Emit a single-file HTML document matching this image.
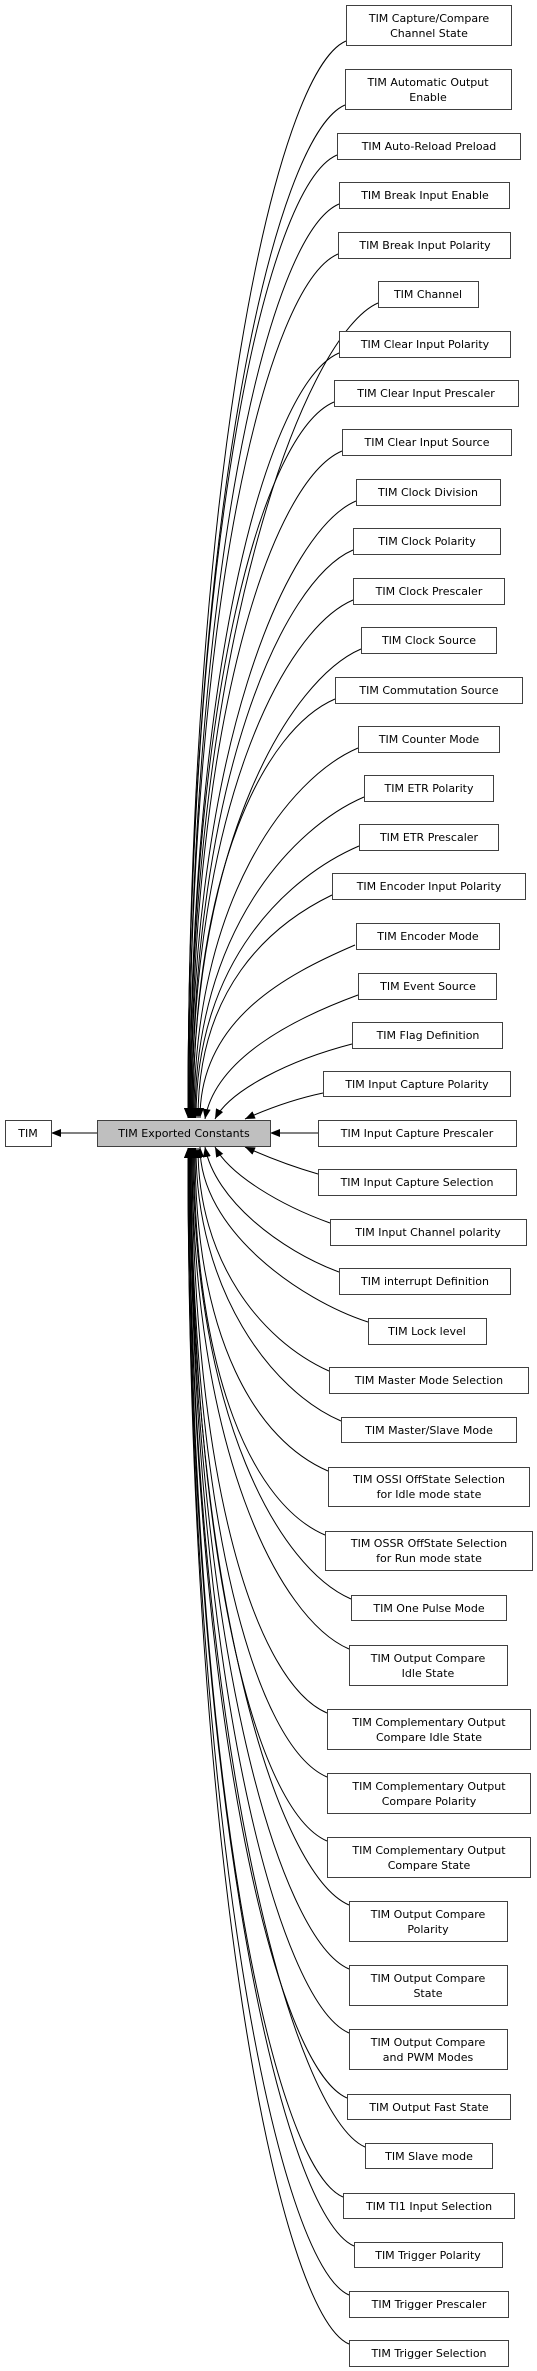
<!DOCTYPE html>
<html><head><meta charset="utf-8"><style>
html,body{margin:0;padding:0;background:#fff;}
svg{display:block;}
text{font-family:"DejaVu Sans","Liberation Sans",sans-serif;font-size:11px;fill:#000;text-anchor:middle;}
rect{fill:#fff;stroke:#404040;stroke-width:1;}
path.e{fill:none;stroke:#000;stroke-width:1;}
</style></head><body>
<svg width="537" height="2371" viewBox="0 0 537 2371" xmlns="http://www.w3.org/2000/svg">
<defs><marker id="a" markerUnits="userSpaceOnUse" markerWidth="11" markerHeight="9" refX="10" refY="4" orient="auto"><path d="M0,0 L10,4 L0,8 z" fill="#000"/></marker></defs>
<g marker-end="url(#a)">
<path class="e" d="M346,41 C276,71 188,472 188,1118"/>
<path class="e" d="M345,105 C275,135 188,510 188,1118"/>
<path class="e" d="M337,155 C267,185 188,540 188,1118"/>
<path class="e" d="M339,204 C269,234 189,570 189,1118"/>
<path class="e" d="M338,254 C268,284 189,600 189,1118"/>
<path class="e" d="M378,303 C308,333 190,630 190,1118"/>
<path class="e" d="M339,353 C269,383 190,660 190,1118"/>
<path class="e" d="M334,402 C264,432 190,690 190,1118"/>
<path class="e" d="M342,451 C272,481 191,720 191,1118"/>
<path class="e" d="M356,501 C286,531 191,750 191,1118"/>
<path class="e" d="M353,550 C283,580 192,780 192,1118"/>
<path class="e" d="M353,600 C283,630 192,810 192,1118"/>
<path class="e" d="M361,649 C291,679 193,840 193,1118"/>
<path class="e" d="M335,699 C265,729 193,870 193,1118"/>
<path class="e" d="M358,748 C288,778 194,900 194,1118"/>
<path class="e" d="M364,797 C294,827 195,930 195,1118"/>
<path class="e" d="M359,846 C289,876 196,960 196,1118"/>
<path class="e" d="M332,895 C268,926 198,990 198,1118"/>
<path class="e" d="M355,945 C285,975 200,1020 200,1118"/>
<path class="e" d="M358,995 C290,1020 215,1060 205,1119"/>
<path class="e" d="M352,1044 C290,1060 230,1090 215,1119"/>
<path class="e" d="M323,1093 C290,1100 265,1110 245,1119"/>
<path class="e" d="M318,1133 L270,1133"/>
<path class="e" d="M318,1174 C290,1166 265,1156 245,1147"/>
<path class="e" d="M330,1223 C280,1205 230,1175 215,1147"/>
<path class="e" d="M339,1272 C280,1250 215,1200 205,1147"/>
<path class="e" d="M368,1322 C300,1300 200,1230 200,1147"/>
<path class="e" d="M329,1371 C260,1340 198,1260 198,1148"/>
<path class="e" d="M341,1421 C271,1391 196,1290 196,1148"/>
<path class="e" d="M328,1471 C258,1441 195,1342 195,1148"/>
<path class="e" d="M325,1535 C255,1505 194,1380 194,1148"/>
<path class="e" d="M351,1599 C281,1569 193,1419 193,1148"/>
<path class="e" d="M349,1649 C279,1619 192,1449 192,1148"/>
<path class="e" d="M327,1713 C257,1683 192,1487 192,1148"/>
<path class="e" d="M327,1777 C257,1747 191,1525 191,1148"/>
<path class="e" d="M327,1841 C257,1811 191,1564 191,1148"/>
<path class="e" d="M349,1905 C279,1875 190,1602 190,1148"/>
<path class="e" d="M349,1969 C279,1939 190,1641 190,1148"/>
<path class="e" d="M349,2033 C279,2003 190,1679 190,1148"/>
<path class="e" d="M347,2098 C277,2068 189,1718 189,1148"/>
<path class="e" d="M365,2147 C295,2117 189,1747 189,1148"/>
<path class="e" d="M343,2197 C273,2167 189,1777 189,1148"/>
<path class="e" d="M354,2246 C284,2216 188,1807 188,1148"/>
<path class="e" d="M349,2295 C279,2265 188,1836 188,1148"/>
<path class="e" d="M349,2344 C279,2314 188,1866 188,1148"/>
<path class="e" d="M97,1133 L51,1133"/>
</g>
<rect x="5.5" y="1120.5" width="46" height="26"/><text x="28" y="1137">TIM</text>
<rect x="97.5" y="1120.5" width="173" height="26" style="fill:#bfbfbf"/><text x="184" y="1137">TIM Exported Constants</text>

<rect x="346.5" y="5.5" width="165" height="40"/><text x="429" y="22">TIM Capture/Compare</text><text x="429" y="37">Channel State</text>
<rect x="345.5" y="69.5" width="166" height="40"/><text x="428" y="86">TIM Automatic Output</text><text x="428" y="101">Enable</text>
<rect x="337.5" y="133.5" width="183" height="26"/><text x="429" y="150">TIM Auto-Reload Preload</text>
<rect x="339.5" y="182.5" width="170" height="26"/><text x="425" y="199">TIM Break Input Enable</text>
<rect x="338.5" y="232.5" width="172" height="26"/><text x="425" y="249">TIM Break Input Polarity</text>
<rect x="378.5" y="281.5" width="100" height="26"/><text x="428" y="298">TIM Channel</text>
<rect x="339.5" y="331.5" width="171" height="26"/><text x="425" y="348">TIM Clear Input Polarity</text>
<rect x="334.5" y="380.5" width="184" height="26"/><text x="426" y="397">TIM Clear Input Prescaler</text>
<rect x="342.5" y="429.5" width="169" height="26"/><text x="427" y="446">TIM Clear Input Source</text>
<rect x="356.5" y="479.5" width="144" height="26"/><text x="428" y="496">TIM Clock Division</text>
<rect x="353.5" y="528.5" width="147" height="26"/><text x="427" y="545">TIM Clock Polarity</text>
<rect x="353.5" y="578.5" width="151" height="26"/><text x="429" y="595">TIM Clock Prescaler</text>
<rect x="361.5" y="627.5" width="135" height="26"/><text x="429" y="644">TIM Clock Source</text>
<rect x="335.5" y="677.5" width="187" height="26"/><text x="429" y="694">TIM Commutation Source</text>
<rect x="358.5" y="726.5" width="141" height="26"/><text x="429" y="743">TIM Counter Mode</text>
<rect x="364.5" y="775.5" width="129" height="26"/><text x="429" y="792">TIM ETR Polarity</text>
<rect x="359.5" y="824.5" width="139" height="26"/><text x="429" y="841">TIM ETR Prescaler</text>
<rect x="332.5" y="873.5" width="193" height="26"/><text x="429" y="890">TIM Encoder Input Polarity</text>
<rect x="356.5" y="923.5" width="143" height="26"/><text x="428" y="940">TIM Encoder Mode</text>
<rect x="358.5" y="973.5" width="138" height="26"/><text x="428" y="990">TIM Event Source</text>
<rect x="352.5" y="1022.5" width="150" height="26"/><text x="428" y="1039">TIM Flag Definition</text>
<rect x="323.5" y="1071.5" width="187" height="25"/><text x="417" y="1088">TIM Input Capture Polarity</text>
<rect x="318.5" y="1120.5" width="198" height="26"/><text x="417" y="1137">TIM Input Capture Prescaler</text>
<rect x="318.5" y="1169.5" width="198" height="26"/><text x="417" y="1186">TIM Input Capture Selection</text>
<rect x="330.5" y="1219.5" width="196" height="26"/><text x="428" y="1236">TIM Input Channel polarity</text>
<rect x="339.5" y="1268.5" width="171" height="26"/><text x="425" y="1285">TIM interrupt Definition</text>
<rect x="368.5" y="1318.5" width="118" height="26"/><text x="427" y="1335">TIM Lock level</text>
<rect x="329.5" y="1367.5" width="199" height="26"/><text x="429" y="1384">TIM Master Mode Selection</text>
<rect x="341.5" y="1417.5" width="175" height="25"/><text x="429" y="1434">TIM Master/Slave Mode</text>
<rect x="328.5" y="1467.5" width="201" height="39"/><text x="429" y="1483">TIM OSSI OffState Selection</text><text x="429" y="1498">for Idle mode state</text>
<rect x="325.5" y="1531.5" width="207" height="39"/><text x="429" y="1547">TIM OSSR OffState Selection</text><text x="429" y="1562">for Run mode state</text>
<rect x="351.5" y="1595.5" width="155" height="25"/><text x="429" y="1612">TIM One Pulse Mode</text>
<rect x="349.5" y="1645.5" width="158" height="40"/><text x="428" y="1662">TIM Output Compare</text><text x="428" y="1677">Idle State</text>
<rect x="327.5" y="1709.5" width="203" height="40"/><text x="429" y="1726">TIM Complementary Output</text><text x="429" y="1741">Compare Idle State</text>
<rect x="327.5" y="1773.5" width="203" height="40"/><text x="429" y="1790">TIM Complementary Output</text><text x="429" y="1805">Compare Polarity</text>
<rect x="327.5" y="1837.5" width="203" height="40"/><text x="429" y="1854">TIM Complementary Output</text><text x="429" y="1869">Compare State</text>
<rect x="349.5" y="1901.5" width="158" height="40"/><text x="428" y="1918">TIM Output Compare</text><text x="428" y="1933">Polarity</text>
<rect x="349.5" y="1965.5" width="158" height="40"/><text x="428" y="1982">TIM Output Compare</text><text x="428" y="1997">State</text>
<rect x="349.5" y="2029.5" width="158" height="40"/><text x="428" y="2046">TIM Output Compare</text><text x="428" y="2061">and PWM Modes</text>
<rect x="347.5" y="2094.5" width="163" height="25"/><text x="429" y="2111">TIM Output Fast State</text>
<rect x="365.5" y="2143.5" width="127" height="25"/><text x="429" y="2160">TIM Slave mode</text>
<rect x="343.5" y="2193.5" width="171" height="25"/><text x="429" y="2210">TIM TI1 Input Selection</text>
<rect x="354.5" y="2242.5" width="148" height="25"/><text x="428" y="2259">TIM Trigger Polarity</text>
<rect x="349.5" y="2291.5" width="159" height="26"/><text x="429" y="2308">TIM Trigger Prescaler</text>
<rect x="349.5" y="2340.5" width="159" height="26"/><text x="429" y="2357">TIM Trigger Selection</text>
</svg>
</body></html>
